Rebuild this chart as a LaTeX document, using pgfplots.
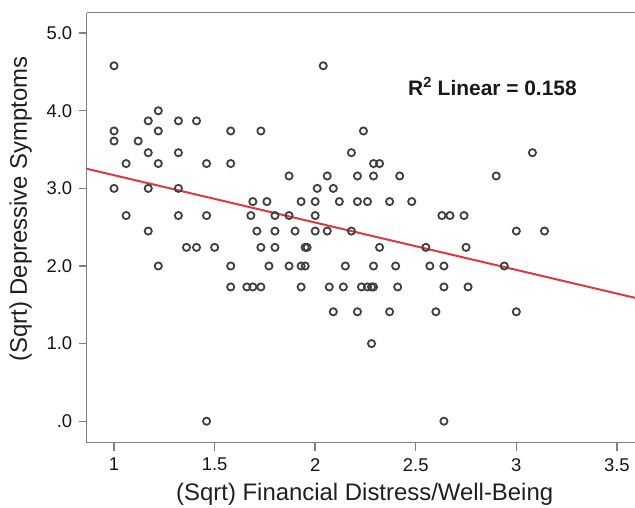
\documentclass[border=0pt]{standalone}
\usepackage{fontspec}
\setmainfont{Liberation Sans}
\usepackage{pgfplots}
\usepackage{pgfplotstable}
\pgfplotsset{compat=1.18}

\definecolor{framegray}{RGB}{128,128,128}
\definecolor{markgray}{RGB}{64,64,64}
\definecolor{fitred}{RGB}{221,57,64}

% (sqrt) financial distress vs (sqrt) depressive symptoms
\pgfplotstableread{
x y
1.00 4.58
2.04 4.58
1.22 4.00
1.17 3.87
1.32 3.87
1.41 3.87
1.00 3.74
1.22 3.74
1.58 3.74
1.73 3.74
2.24 3.74
1.00 3.61
1.12 3.61
1.17 3.46
1.32 3.46
2.18 3.46
3.08 3.46
1.06 3.32
1.22 3.32
1.46 3.32
1.58 3.32
2.29 3.32
2.32 3.32
1.87 3.16
2.06 3.16
2.21 3.16
2.29 3.16
2.42 3.16
2.90 3.16
1.00 3.00
1.17 3.00
1.32 3.00
2.01 3.00
2.09 3.00
1.69 2.83
1.76 2.83
1.93 2.83
2.00 2.83
2.12 2.83
2.21 2.83
2.26 2.83
2.37 2.83
2.48 2.83
1.06 2.65
1.32 2.65
1.46 2.65
1.68 2.65
1.80 2.65
1.87 2.65
2.00 2.65
2.63 2.65
2.67 2.65
2.74 2.65
1.17 2.45
1.71 2.45
1.80 2.45
1.90 2.45
2.00 2.45
2.06 2.45
2.18 2.45
3.00 2.45
3.14 2.45
1.36 2.24
1.41 2.24
1.50 2.24
1.73 2.24
1.80 2.24
1.95 2.24
1.96 2.24
2.32 2.24
2.55 2.24
2.75 2.24
1.22 2.00
1.58 2.00
1.77 2.00
1.87 2.00
1.93 2.00
1.95 2.00
2.15 2.00
2.29 2.00
2.40 2.00
2.57 2.00
2.64 2.00
2.94 2.00
1.58 1.73
1.66 1.73
1.69 1.73
1.73 1.73
1.93 1.73
2.07 1.73
2.14 1.73
2.23 1.73
2.26 1.73
2.28 1.73
2.29 1.73
2.41 1.73
2.64 1.73
2.76 1.73
2.09 1.41
2.21 1.41
2.37 1.41
2.60 1.41
3.00 1.41
2.28 1.00
1.46 0.00
2.64 0.00
}\pts

\begin{document}
\begin{tikzpicture}
\begin{axis}[
  scale only axis, width=548.3bp, height=430bp,
  xmin=0.864, xmax=3.59, ymin=-0.277, ymax=5.264,
  clip=false,
  axis x line*=bottom, axis y line*=left,
  axis line style={framegray, line width=1.4bp},
  tick align=outside, major tick length=8bp,
  tick style={framegray, line width=1.4bp},
  xtick={1,1.5,2,2.5,3,3.5}, xticklabels={1,1.5,2,2.5,3,3.5},
  ytick={0,1,2,3,4,5}, yticklabels={.0,1.0,2.0,3.0,4.0,5.0},
  ticklabel style={font=\fontsize{18.5}{21}\selectfont, text=black!92},
  yticklabel style={xshift=-3bp},
  xticklabel style={yshift=-4bp},
]
\addplot[fitred, line width=2bp] coordinates {(0.864,3.253) (3.59,1.590)};
\addplot[only marks, mark=o, mark size=3.6bp, markgray, line width=1.8bp] table {\pts};
\draw[framegray, line width=1.4bp] (rel axis cs:0,1) -- (rel axis cs:1,1);
\node[rotate=90, font=\fontsize{24}{28}\selectfont, text=black!88]
  at ([xshift=-66bp]rel axis cs:0,0.5435) {(Sqrt) Depressive Symptoms};
\node[font=\fontsize{24}{28}\selectfont, text=black!88]
  at ([yshift=-52bp]rel axis cs:0.507,0) {(Sqrt) Financial Distress/Well-Being};
\node[font=\bfseries\fontsize{21}{24}\selectfont, text=black!90]
  at (rel axis cs:0.74,0.828) {R\textsuperscript{2} Linear = 0.158};
\end{axis}
\pgfresetboundingbox
\path[use as bounding box] (-86.7bp,-65.3bp) rectangle (548.3bp,442.7bp);
\end{tikzpicture}
\end{document}
